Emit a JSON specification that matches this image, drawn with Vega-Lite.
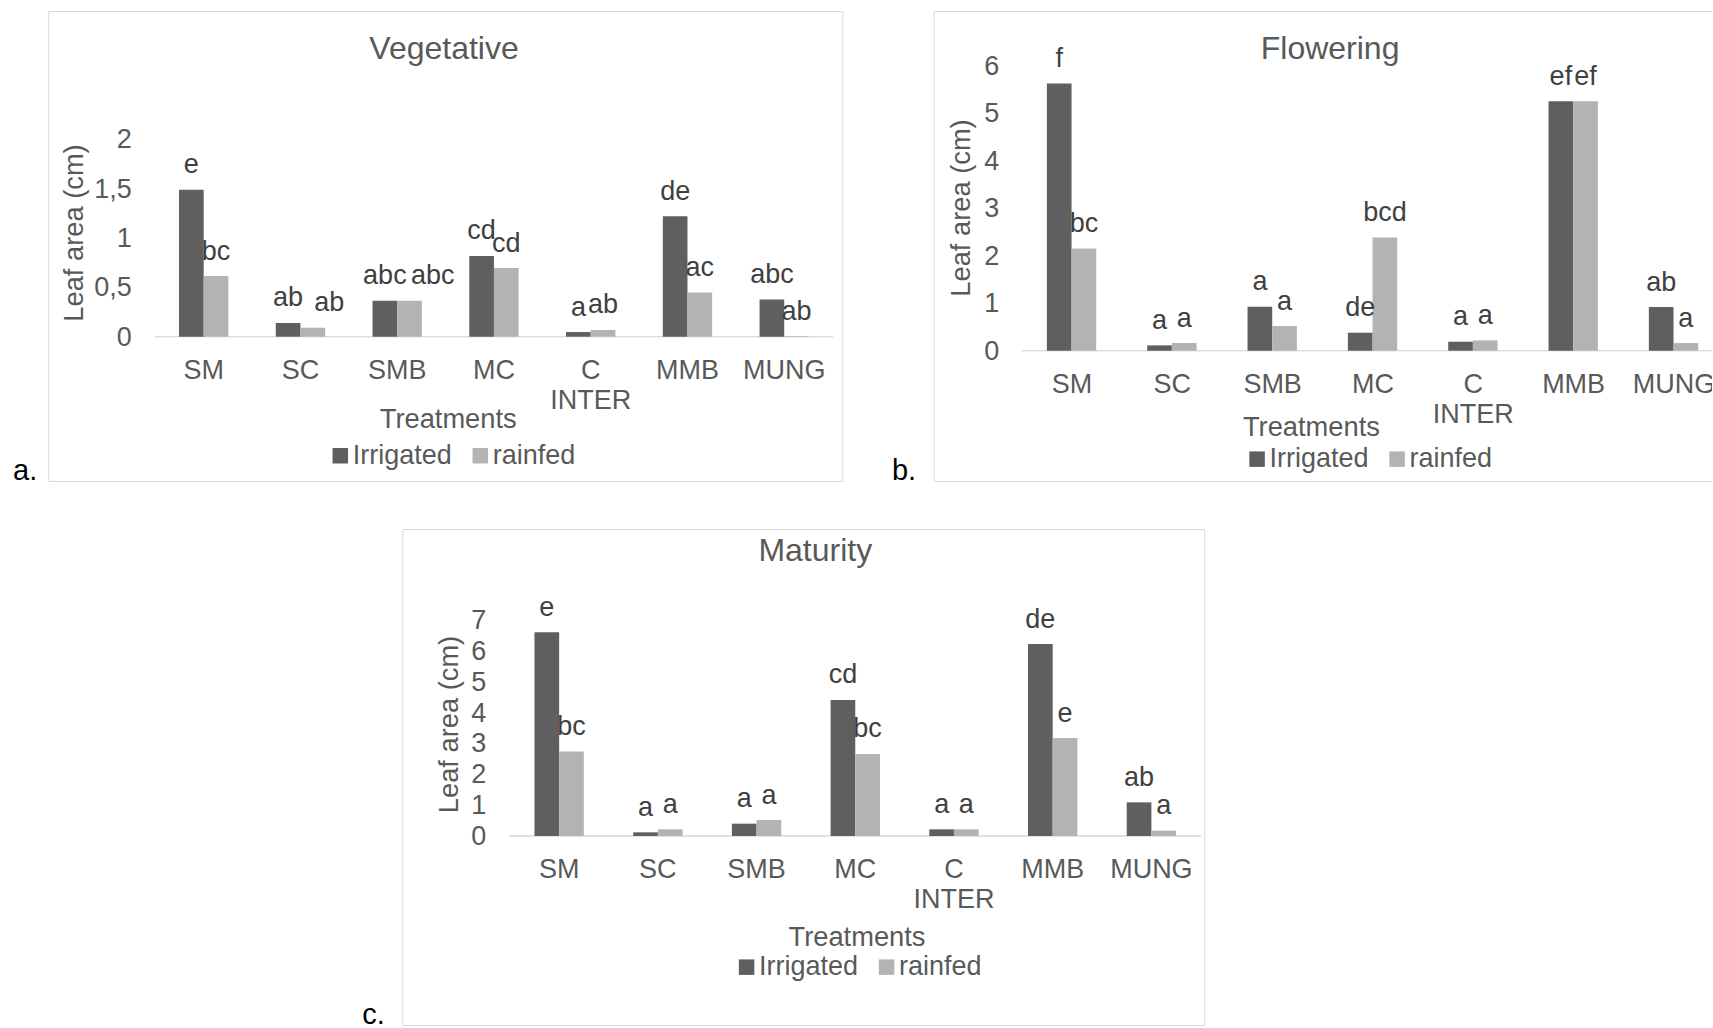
{
  "$schema": "https://vega.github.io/schema/vega-lite/v6.json",
  "background": "white",
  "padding": {"left": 12.3, "top": 10, "right": -17, "bottom": 0},
  "datasets": {
    "leaf": [
      {"stage": "Vegetative", "trt": "SM", "water": "Irrigated", "value": 1.49, "sig": "e"},
      {"stage": "Vegetative", "trt": "SM", "water": "rainfed", "value": 0.615, "sig": "bc"},
      {"stage": "Vegetative", "trt": "SC", "water": "Irrigated", "value": 0.139, "sig": "ab"},
      {"stage": "Vegetative", "trt": "SC", "water": "rainfed", "value": 0.091, "sig": "ab"},
      {"stage": "Vegetative", "trt": "SMB", "water": "Irrigated", "value": 0.365, "sig": "abc"},
      {"stage": "Vegetative", "trt": "SMB", "water": "rainfed", "value": 0.365, "sig": "abc"},
      {"stage": "Vegetative", "trt": "MC", "water": "Irrigated", "value": 0.818, "sig": "cd"},
      {"stage": "Vegetative", "trt": "MC", "water": "rainfed", "value": 0.696, "sig": "cd"},
      {"stage": "Vegetative", "trt": "C INTER", "water": "Irrigated", "value": 0.047, "sig": "a"},
      {"stage": "Vegetative", "trt": "C INTER", "water": "rainfed", "value": 0.068, "sig": "ab"},
      {"stage": "Vegetative", "trt": "MMB", "water": "Irrigated", "value": 1.22, "sig": "de"},
      {"stage": "Vegetative", "trt": "MMB", "water": "rainfed", "value": 0.449, "sig": "ac"},
      {"stage": "Vegetative", "trt": "MUNG", "water": "Irrigated", "value": 0.378, "sig": "abc"},
      {"stage": "Vegetative", "trt": "MUNG", "water": "rainfed", "value": 0.007, "sig": "ab"},
      {"stage": "Flowering", "trt": "SM", "water": "Irrigated", "value": 5.62, "sig": "f"},
      {"stage": "Flowering", "trt": "SM", "water": "rainfed", "value": 2.15, "sig": "bc"},
      {"stage": "Flowering", "trt": "SC", "water": "Irrigated", "value": 0.112, "sig": "a"},
      {"stage": "Flowering", "trt": "SC", "water": "rainfed", "value": 0.161, "sig": "a"},
      {"stage": "Flowering", "trt": "SMB", "water": "Irrigated", "value": 0.926, "sig": "a"},
      {"stage": "Flowering", "trt": "SMB", "water": "rainfed", "value": 0.519, "sig": "a"},
      {"stage": "Flowering", "trt": "MC", "water": "Irrigated", "value": 0.379, "sig": "de"},
      {"stage": "Flowering", "trt": "MC", "water": "rainfed", "value": 2.384, "sig": "bcd"},
      {"stage": "Flowering", "trt": "C INTER", "water": "Irrigated", "value": 0.189, "sig": "a"},
      {"stage": "Flowering", "trt": "C INTER", "water": "rainfed", "value": 0.217, "sig": "a"},
      {"stage": "Flowering", "trt": "MMB", "water": "Irrigated", "value": 5.25, "sig": "ef"},
      {"stage": "Flowering", "trt": "MMB", "water": "rainfed", "value": 5.25, "sig": "ef"},
      {"stage": "Flowering", "trt": "MUNG", "water": "Irrigated", "value": 0.919, "sig": "ab"},
      {"stage": "Flowering", "trt": "MUNG", "water": "rainfed", "value": 0.161, "sig": "a"},
      {"stage": "Maturity", "trt": "SM", "water": "Irrigated", "value": 6.6, "sig": "e"},
      {"stage": "Maturity", "trt": "SM", "water": "rainfed", "value": 2.74, "sig": "bc"},
      {"stage": "Maturity", "trt": "SC", "water": "Irrigated", "value": 0.119, "sig": "a"},
      {"stage": "Maturity", "trt": "SC", "water": "rainfed", "value": 0.216, "sig": "a"},
      {"stage": "Maturity", "trt": "SMB", "water": "Irrigated", "value": 0.4, "sig": "a"},
      {"stage": "Maturity", "trt": "SMB", "water": "rainfed", "value": 0.518, "sig": "a"},
      {"stage": "Maturity", "trt": "MC", "water": "Irrigated", "value": 4.41, "sig": "cd"},
      {"stage": "Maturity", "trt": "MC", "water": "rainfed", "value": 2.66, "sig": "bc"},
      {"stage": "Maturity", "trt": "C INTER", "water": "Irrigated", "value": 0.216, "sig": "a"},
      {"stage": "Maturity", "trt": "C INTER", "water": "rainfed", "value": 0.216, "sig": "a"},
      {"stage": "Maturity", "trt": "MMB", "water": "Irrigated", "value": 6.22, "sig": "de"},
      {"stage": "Maturity", "trt": "MMB", "water": "rainfed", "value": 3.175, "sig": "e"},
      {"stage": "Maturity", "trt": "MUNG", "water": "Irrigated", "value": 1.09, "sig": "ab"},
      {"stage": "Maturity", "trt": "MUNG", "water": "rainfed", "value": 0.173, "sig": "a"}
    ]
  },
  "config": {
    "font": "Liberation Sans",
    "view": {"stroke": "#d9d9d9", "strokeWidth": 1},
    "axis": {"grid": false, "domain": false, "ticks": false, "tickSize": 0, "labelFontSize": 27, "labelColor": "#595959", "titleFontSize": 27.3, "titleFontWeight": "normal", "titleColor": "#595959"},
    "axisX": {"labelAngle": 0, "labelBaseline": "alphabetic", "labelPadding": 42, "labelLineHeight": 30, "labelOverlap": false, "labelBound": false, "labelFlush": false, "titleBaseline": "alphabetic", "titleAlign": "center"},
    "axisY": {"titleBaseline": "middle", "labelBaseline": "middle", "labelAlign": "right", "labelOffset": 0.5, "labelOverlap": false},
    "title": {"fontSize": 32, "fontWeight": "normal", "color": "#595959"},
    "legend": {"orient": "none", "direction": "horizontal", "title": null, "symbolType": "square", "symbolSize": 240, "symbolStrokeWidth": 0, "symbolOpacity": 1, "labelFontSize": 27, "labelColor": "#595959", "labelOffset": -1, "columnPadding": 14, "padding": 0}
  },
  "resolve": {"scale": {"color": "independent"}, "legend": {"color": "independent"}},
  "spacing": 41,
  "vconcat": [
    {
      "spacing": 48.3,
      "resolve": {"scale": {"color": "independent"}, "legend": {"color": "independent"}},
      "hconcat": [
        {
          "title": {"text": "a.", "orient": "left", "anchor": "start", "angle": 0, "align": "left", "baseline": "alphabetic", "offset": 10.5, "dy": -1.4, "fontSize": 29, "color": "#000000"},
          "resolve": {"scale": {"color": "independent"}, "legend": {"color": "independent"}},
          "hconcat": [
            {
              "width": 794, "height": 470,
              "data": {"name": "leaf"},
              "transform": [{"filter": "datum.stage == 'Vegetative'"}],
              "title": {"text": "Vegetative", "anchor": "middle", "frame": "group", "offset": -80.4, "baseline": "alphabetic", "dx": -1.3},
              "encoding": {
                "x": {"field": "trt", "type": "nominal", "sort": ["SM", "SC", "SMB", "MC", "C INTER", "MMB", "MUNG"],
                      "scale": {"paddingInner": 0.49, "paddingOuter": 0.848, "align": 0.7965},
                      "axis": {"offset": -144.3, "title": "Treatments", "titleX": 399.4, "titleY": 91, "labelExpr": "datum.label == 'C INTER' ? ['C', 'INTER'] : datum.label"}},
                "y": {"field": "value", "type": "quantitative", "scale": {"domain": [-1.462, 3.3], "nice": false, "zero": false},
                      "axis": {"offset": -107, "values": [0, 0.5, 1, 1.5, 2], "format": ".2~g", "labelExpr": "replace(datum.label, '.', ',')", "labelPadding": 24, "title": "Leaf area (cm)", "titleX": -81, "titleY": 221.5}}
              },
              "layer": [
                {"mark": {"type": "tick", "orient": "horizontal", "size": 97.5, "thickness": 1.3, "color": "#d9d9d9"},
                 "encoding": {"y": {"datum": 0, "type": "quantitative",
                   "axis": {"offset": -107, "values": [0, 0.5, 1, 1.5, 2], "format": ".2~g", "labelExpr": "replace(datum.label, '.', ',')", "labelPadding": 24, "title": "Leaf area (cm)", "titleX": -81, "titleY": 221.5}}}},
                {"mark": {"type": "bar"},
                 "encoding": {
                   "xOffset": {"field": "water", "type": "nominal", "sort": ["Irrigated", "rainfed"], "scale": {"paddingInner": 0, "paddingOuter": 0}},
                   "color": {"field": "water", "type": "nominal", "scale": {"domain": ["Irrigated", "rainfed"], "range": ["#5f5f5f", "#b3b3b3"]}, "legend": {"legendX": 278.5, "legendY": 431}}
                 }},
                {"transform": [{"filter": "!(datum.water == 'rainfed' && (datum.trt == 'SC' || datum.trt == 'SMB'))"}],
                 "mark": {"type": "text", "baseline": "alphabetic", "dy": -16.5, "fontSize": 27, "color": "#404040"},
                 "encoding": {
                   "xOffset": {"field": "water", "type": "nominal", "sort": ["Irrigated", "rainfed"], "scale": {"paddingInner": 0, "paddingOuter": 0}},
                   "text": {"field": "sig"}
                 }},
                {"transform": [{"filter": "datum.water == 'rainfed' && (datum.trt == 'SC' || datum.trt == 'SMB')"}],
                 "mark": {"type": "text", "baseline": "alphabetic", "align": "left", "dx": 1.5, "dy": -16.5, "fontSize": 27, "color": "#404040"},
                 "encoding": {
                   "xOffset": {"field": "water", "type": "nominal", "sort": ["Irrigated", "rainfed"], "scale": {"paddingInner": 0, "paddingOuter": 0}},
                   "text": {"field": "sig"}
                 }}
              ]
            }
          ]
        },
        {
          "title": {"text": "b.", "orient": "left", "anchor": "start", "angle": 0, "align": "left", "baseline": "alphabetic", "offset": 17, "dy": -1.3, "fontSize": 29, "color": "#000000"},
          "resolve": {"scale": {"color": "independent"}, "legend": {"color": "independent"}},
          "hconcat": [
            {
              "width": 795, "height": 470,
              "data": {"name": "leaf"},
              "transform": [{"filter": "datum.stage == 'Flowering'"}],
              "title": {"text": "Flowering", "anchor": "middle", "frame": "group", "offset": -80.4, "baseline": "alphabetic", "dx": -1},
              "encoding": {
                "x": {"field": "trt", "type": "nominal", "sort": ["SM", "SC", "SMB", "MC", "C INTER", "MMB", "MUNG"],
                      "scale": {"paddingInner": 0.5, "paddingOuter": 0.7119, "align": 0.793},
                      "axis": {"offset": -130.3, "title": "Treatments", "titleX": 377.3, "titleY": 85, "labelExpr": "datum.label == 'C INTER' ? ['C', 'INTER'] : datum.label"}},
                "y": {"field": "value", "type": "quantitative", "scale": {"domain": [-2.741, 7.147], "nice": false, "zero": false},
                      "axis": {"offset": -88.2, "values": [0, 1, 2, 3, 4, 5, 6], "format": "~g", "labelPadding": 23, "title": "Leaf area (cm)", "titleX": -60, "titleY": 196.5}}
              },
              "layer": [
                {"mark": {"type": "tick", "orient": "horizontal", "size": 101, "thickness": 1.3, "color": "#d9d9d9"},
                 "encoding": {"y": {"datum": 0, "type": "quantitative",
                   "axis": {"offset": -88.2, "values": [0, 1, 2, 3, 4, 5, 6], "format": "~g", "labelPadding": 23, "title": "Leaf area (cm)", "titleX": -60, "titleY": 196.5}}}},
                {"mark": {"type": "bar"},
                 "encoding": {
                   "xOffset": {"field": "water", "type": "nominal", "sort": ["Irrigated", "rainfed"], "scale": {"paddingInner": 0, "paddingOuter": 0}},
                   "color": {"field": "water", "type": "nominal", "scale": {"domain": ["Irrigated", "rainfed"], "range": ["#5f5f5f", "#b3b3b3"]}, "legend": {"legendX": 310, "legendY": 434.4}}
                 }},
                {"mark": {"type": "text", "baseline": "alphabetic", "dy": -16.5, "fontSize": 27, "color": "#404040"},
                 "encoding": {
                   "xOffset": {"field": "water", "type": "nominal", "sort": ["Irrigated", "rainfed"], "scale": {"paddingInner": 0, "paddingOuter": 0}},
                   "text": {"field": "sig"}
                 }}
              ]
            }
          ]
        }
      ]
    },
    {
      "spacing": 0,
      "resolve": {"scale": {"color": "independent"}, "legend": {"color": "independent"}},
      "hconcat": [
        {"width": 313, "height": 1, "view": {"stroke": null}, "data": {"values": []}, "mark": "point", "encoding": {}},
        {
          "title": {"text": "c.", "orient": "left", "anchor": "start", "angle": 0, "align": "left", "baseline": "alphabetic", "offset": 17, "dy": -1, "fontSize": 29, "color": "#000000"},
          "resolve": {"scale": {"color": "independent"}, "legend": {"color": "independent"}},
          "hconcat": [
            {
              "width": 802, "height": 496,
              "data": {"name": "leaf"},
              "transform": [{"filter": "datum.stage == 'Maturity'"}],
              "title": {"text": "Maturity", "anchor": "middle", "frame": "group", "offset": -64.3, "baseline": "alphabetic", "dx": 12},
              "encoding": {
                "x": {"field": "trt", "type": "nominal", "sort": ["SM", "SC", "SMB", "MC", "C INTER", "MMB", "MUNG"],
                      "scale": {"paddingInner": 0.5, "paddingOuter": 0.8125, "align": 0.824},
                      "axis": {"offset": -189, "title": "Treatments", "titleX": 454.2, "titleY": 110, "labelExpr": "datum.label == 'C INTER' ? ['C', 'INTER'] : datum.label"}},
                "y": {"field": "value", "type": "quantitative", "scale": {"domain": [-6.124, 9.948], "nice": false, "zero": false},
                      "axis": {"offset": -107.5, "values": [0, 1, 2, 3, 4, 5, 6, 7], "format": "~g", "labelPadding": 24, "title": "Leaf area (cm)", "titleX": -60, "titleY": 195}}
              },
              "layer": [
                {"mark": {"type": "tick", "orient": "horizontal", "size": 99.5, "thickness": 1.3, "color": "#d9d9d9"},
                 "encoding": {"y": {"datum": 0, "type": "quantitative",
                   "axis": {"offset": -107.5, "values": [0, 1, 2, 3, 4, 5, 6, 7], "format": "~g", "labelPadding": 24, "title": "Leaf area (cm)", "titleX": -60, "titleY": 195}}}},
                {"mark": {"type": "bar"},
                 "encoding": {
                   "xOffset": {"field": "water", "type": "nominal", "sort": ["Irrigated", "rainfed"], "scale": {"paddingInner": 0, "paddingOuter": 0}},
                   "color": {"field": "water", "type": "nominal", "scale": {"domain": ["Irrigated", "rainfed"], "range": ["#5f5f5f", "#b3b3b3"]}, "legend": {"legendX": 330.8, "legendY": 424.4}}
                 }},
                {"mark": {"type": "text", "baseline": "alphabetic", "dy": -16.5, "fontSize": 27, "color": "#404040"},
                 "encoding": {
                   "xOffset": {"field": "water", "type": "nominal", "sort": ["Irrigated", "rainfed"], "scale": {"paddingInner": 0, "paddingOuter": 0}},
                   "text": {"field": "sig"}
                 }}
              ]
            }
          ]
        }
      ]
    }
  ]
}
